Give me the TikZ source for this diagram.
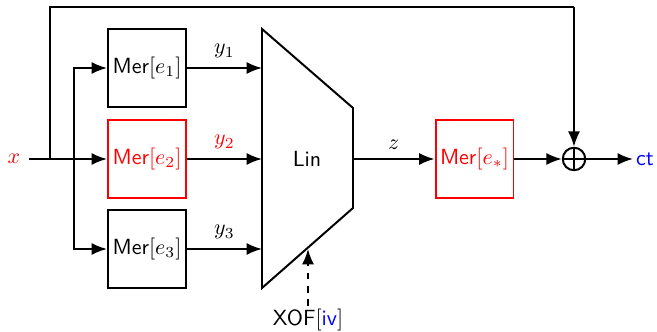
\documentclass[tikz,border=0pt]{standalone}
\usetikzlibrary{arrows.meta}
\begin{document}
\begin{tikzpicture}[x=0.016cm,y=-0.016cm,
  line width=0.9pt,
  arr/.style={-{Latex[length=7pt,width=5.5pt]}},
  merbox/.style={draw,minimum width=1.248cm,minimum height=1.248cm,inner sep=0pt,font=\sffamily},
  lbl/.style={inner sep=1pt}]
\useasboundingbox (0,0) rectangle (657,332);
% boxes
\node[merbox] (m1) at (147,68) {Mer$[e_1]$};
\node[merbox,draw=red,text=red] (m2) at (147,159) {Mer$[e_2]$};
\node[merbox] (m3) at (147,249) {Mer$[e_3]$};
\node[merbox,draw=red,text=red] (ms) at (474.5,159) {Mer$[e_*]$};
% input
\node[lbl,text=red] (x) at (14,159) {$x$};
\coordinate (xs) at (29,159);
\coordinate (fb) at (50,159);
\coordinate (br) at (74,159);
\coordinate (fbtop) at (50,7);
% Lin trapezoid
\coordinate (LT) at (262,29);
\coordinate (LB) at (262,288);
\coordinate (RT) at (353,108);
\coordinate (RB) at (353,208);
\draw (LT) -- (RT) -- (RB) -- (LB) -- cycle;
\node[font=\sffamily] (lin) at (307,159) {Lin};
\coordinate (L1) at (262,68);
\coordinate (L2) at (262,159);
\coordinate (L3) at (262,249);
\coordinate (LR) at (353,159);
\coordinate (Lbot) at (308,249);
% oplus
\node[circle,draw,minimum size=0.36cm,inner sep=0pt] (op) at (574,159) {};
\draw (op.north) -- (op.south) (op.west) -- (op.east);
\coordinate (optop) at (574,7);
\node[lbl,text=blue,font=\sffamily] (ct) at (645,159) {ct};
\node[lbl] (xof) at (308,320) {\textsf{XOF}$[\textsf{\color{blue}iv}]$};
% connectors
\draw (xs) -- (br);
\draw (fb) -- (fbtop) -- (optop);
\draw[arr] (optop) -- (op.north);
\draw[arr] (br) |- (m1.west);
\draw[arr] (br) -- (m2.west);
\draw[arr] (br) |- (m3.west);
\draw[arr] (m1.east) -- node[above,lbl,yshift=3pt] {$y_1$} (L1);
\draw[arr] (m2.east) -- node[above,lbl,yshift=3pt,text=red] {$y_2$} (L2);
\draw[arr] (m3.east) -- node[above,lbl,yshift=3pt] {$y_3$} (L3);
\draw[arr] (LR) -- node[above,lbl,yshift=3pt] {$z$} (ms.west);
\draw[arr] (ms.east) -- (op.west);
\draw[arr] (op.east) -- (ct.west);
\draw[arr,dashed] (xof.north) -- (Lbot);
\end{tikzpicture}
\end{document}
